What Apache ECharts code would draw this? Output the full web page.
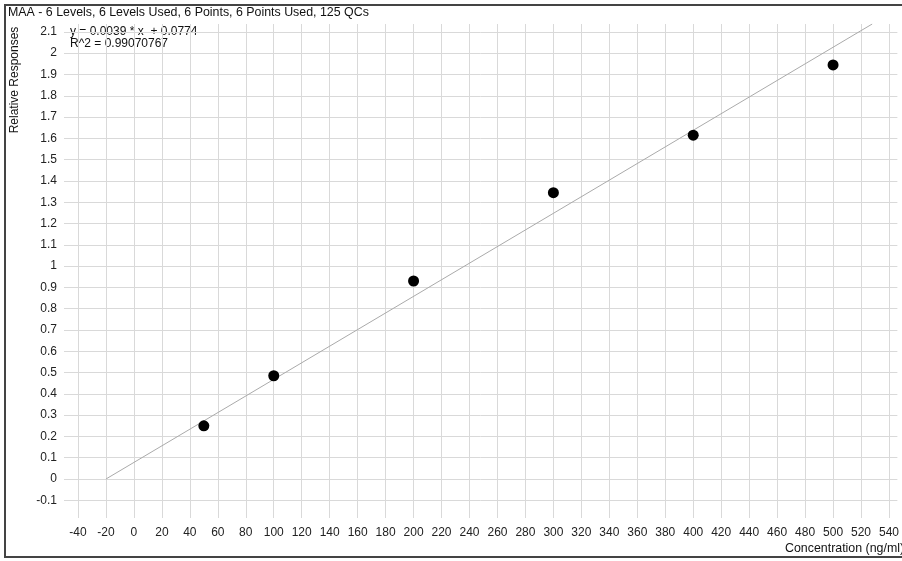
<!DOCTYPE html>
<html>
<head>
<meta charset="utf-8">
<script src="https://cdn.jsdelivr.net/npm/echarts@6/dist/echarts.min.js"></script>
<style>
html,body{margin:0;padding:0;background:#fff;}
#main{width:902px;height:561px;}
</style>
</head>
<body>
<div id="main"></div>
<script>
// Data
var concentrations = [50, 100, 200, 300, 400, 500];
var responses = [0.25, 0.485, 0.93, 1.345, 1.615, 1.945];
// Regression line endpoints (as drawn in the reference)
var fitX = [-20, 528];
var fitY = [0, 2.137];
// Tick labels
var xTicks = [-40, -20, 0, 20, 40, 60, 80, 100, 120, 140, 160, 180, 200, 220, 240, 260, 280, 300, 320, 340, 360, 380, 400, 420, 440, 460, 480, 500, 520, 540];
var yTicks = [-0.1, 0, 0.1, 0.2, 0.3, 0.4, 0.5, 0.6, 0.7, 0.8, 0.9, 1, 1.1, 1.2, 1.3, 1.4, 1.5, 1.6, 1.7, 1.8, 1.9, 2, 2.1];
var titleText = 'MAA - 6 Levels, 6 Levels Used, 6 Points, 6 Points Used, 125 QCs';
var equationText = 'y = 0.0039 * x  + 0.0774';
var r2Text = 'R^2 = 0.99070767';
var xTitle = 'Concentration (ng/ml)';
var yTitle = 'Relative Responses';

var FONT = '"Liberation Sans", Arial, sans-serif';
var chart = echarts.init(document.getElementById('main'), null, {renderer: 'canvas'});

var pts = concentrations.map(function (c, i) { return [c, responses[i]]; });
var fit = fitX.map(function (x, i) { return [x, fitY[i]]; });

chart.setOption({
  backgroundColor: '#fff',
  animation: false,
  title: {
    text: titleText,
    left: 8, top: 7,
    padding: 0,
    textStyle: {fontFamily: FONT, fontSize: 12.4, fontWeight: 'normal', color: '#111'}
  },
  grid: {left: 64, right: 0, top: 24, bottom: 43, containLabel: false},
  xAxis: {
    type: 'value',
    min: -50, max: 546,
    axisLine: {show: false},
    axisTick: {show: false, customValues: xTicks},
    axisLabel: {customValues: xTicks, fontFamily: FONT, fontSize: 12, color: '#222', margin: 9, showMinLabel: true, showMaxLabel: true},
    splitLine: {show: true, lineStyle: {color: '#d9d9d9', width: 1}}
  },
  yAxis: {
    type: 'value',
    min: -0.183, max: 2.137,
    axisLine: {show: false},
    axisTick: {show: false, customValues: yTicks},
    axisLabel: {customValues: yTicks, fontFamily: FONT, fontSize: 12, color: '#222', margin: 7},
    splitLine: {show: true, lineStyle: {color: '#d9d9d9', width: 1}}
  },
  series: [
    {
      type: 'line',
      data: fit,
      symbol: 'none',
      lineStyle: {color: '#aaaaaa', width: 1},
      silent: true,
      z: 2
    },
    {
      type: 'scatter',
      data: pts,
      symbol: 'circle',
      symbolSize: 11,
      itemStyle: {color: '#000', opacity: 1},
      z: 3
    }
  ],
  graphic: [
    {
      type: 'rect',
      shape: {x: 5, y: 5, width: 910, height: 552},
      style: {fill: 'none', stroke: '#444', lineWidth: 2},
      z: 100
    },
    {
      type: 'text', left: 70, top: 26,
      style: {text: equationText, font: '12px ' + FONT, fill: '#111'}
    },
    {
      type: 'text', left: 70, top: 38,
      style: {text: r2Text, font: '12px ' + FONT, fill: '#111'}
    },
    {
      type: 'text', x: 785, y: 543,
      style: {text: xTitle, font: '12.4px ' + FONT, fill: '#111', textAlign: 'left', textVerticalAlign: 'top'}
    },
    {
      type: 'text', x: 15, y: 80, rotation: Math.PI / 2,
      style: {text: yTitle, font: '12px ' + FONT, fill: '#111', textAlign: 'center', textVerticalAlign: 'middle'}
    }
  ]
});
</script>
</body>
</html>
